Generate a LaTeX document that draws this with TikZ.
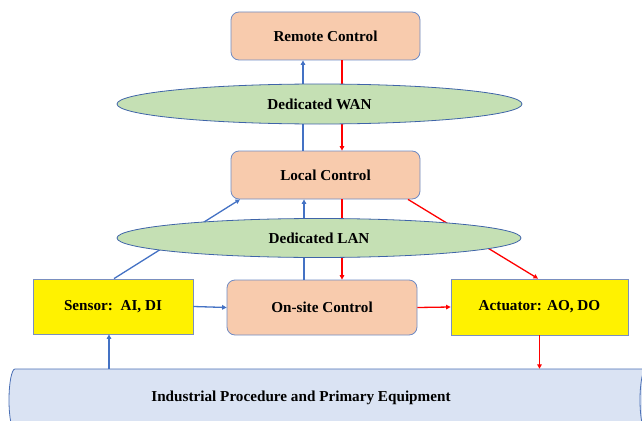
\documentclass[tikz,border=0pt]{standalone}
\usepackage{fontspec}
\setmainfont{Liberation Serif}
\usetikzlibrary{arrows.meta,shapes.geometric}

\definecolor{boxfill}{HTML}{F8CBAD}
\definecolor{boxline}{HTML}{6F8BC4}
\definecolor{netfill}{HTML}{C5E0B4}
\definecolor{netline}{HTML}{3F64A8}
\definecolor{ioline}{HTML}{7A8FBF}
\definecolor{cylfill}{HTML}{DAE3F3}
\definecolor{cylline}{HTML}{4A6FB5}
\definecolor{upblue}{HTML}{4472C4}
\definecolor{downred}{HTML}{FF0000}

\tikzset{
  lbl/.style={font=\fontsize{15.2}{18}\selectfont\bfseries, text=black},
  ctrl/.style={lbl, rectangle, rounded corners=8pt, draw=boxline, line width=0.8pt,
               fill=boxfill, inner sep=0pt},
  iobox/.style={lbl, rectangle, draw=ioline, line width=0.8pt, fill=yellow, inner sep=0pt},
  net/.style={lbl, ellipse, draw=netline, line width=0.8pt, fill=netfill, inner sep=0pt},
  upflow/.style={draw=upblue, line width=1.3pt, -{Triangle[length=4.5pt,width=4.5pt]}},
  downflow/.style={draw=downred, line width=1.3pt, -{Triangle[length=4.5pt,width=4.5pt]}}
}

\begin{document}
\begin{tikzpicture}[x=1pt,y=1pt]
\useasboundingbox (0,0) rectangle (642,-420);
\clip (0,0) rectangle (642,-420);

% process cylinder (drawn first, its lower part runs off the page)
\path[fill=cylfill, draw=cylline, line width=0.8pt]
  (15,-369) -- (646,-369)
  arc[start angle=90, end angle=-90, x radius=6, y radius=31]
  -- (15,-431)
  arc[start angle=270, end angle=90, x radius=6, y radius=31] -- cycle;
\draw[cylline, line width=0.8pt]
  (646,-369) arc[start angle=90, end angle=270, x radius=6, y radius=31];
\node[inner sep=0pt, minimum width=631pt, minimum height=62pt] (proc) at (330.5,-400) {};
\node[lbl] (proctext) at (301,-397.5) {Industrial Procedure and Primary Equipment};

% control levels
\node[ctrl, minimum width=189pt, minimum height=48pt] (remote) at (325.5,-36) {Remote Control};
\node[ctrl, minimum width=189pt, minimum height=48pt] (local) at (325.5,-175) {Local Control};
\node[ctrl, minimum width=190pt, minimum height=55pt] (onsite) at (322,-307.5) {On-site Control};

% field devices
\node[iobox, minimum width=160pt, minimum height=55pt] (sensor) at (113,-306.5) {Sensor:\ \ AI, DI};
\node[iobox, minimum width=177pt, minimum height=56pt] (actuator) at (539.5,-307) {Actuator: AO, DO};

% measurement flow (upwards)
\draw[upflow] ([xshift=-22.5pt]local.north) -- ([xshift=-22.5pt]remote.south);
\draw[upflow] ([xshift=1pt]sensor.north) -- ([xshift=-85.5pt]local.south);
\draw[upflow] ([xshift=-18pt]onsite.north) -- ([xshift=-21.5pt]local.south);
\draw[upflow] (sensor.east) -- (onsite.west);
\draw[upflow] (proc.north -| sensor.south) ++(-4,0) coordinate (procleft) -- (procleft |- sensor.south);

% command flow (downwards)
\draw[downflow] ([xshift=16.5pt]remote.south) -- ([xshift=16.5pt]local.north);
\draw[downflow] ([xshift=16.5pt]local.south) -- ([xshift=20pt]onsite.north);
\draw[downflow] ([xshift=82.5pt]local.south) -- ([xshift=-1.5pt]actuator.north);
\draw[downflow] (onsite.east) -- (actuator.west);
\draw[downflow] (actuator.south) -- (actuator.south |- proc.north);

% networks, laid over the links that cross them
\node[net, minimum width=405pt, minimum height=40pt] (wan) at (319.5,-104) {Dedicated WAN};
\node[net, minimum width=404pt, minimum height=39pt] (lan) at (319,-238) {Dedicated LAN};
\end{tikzpicture}
\end{document}
